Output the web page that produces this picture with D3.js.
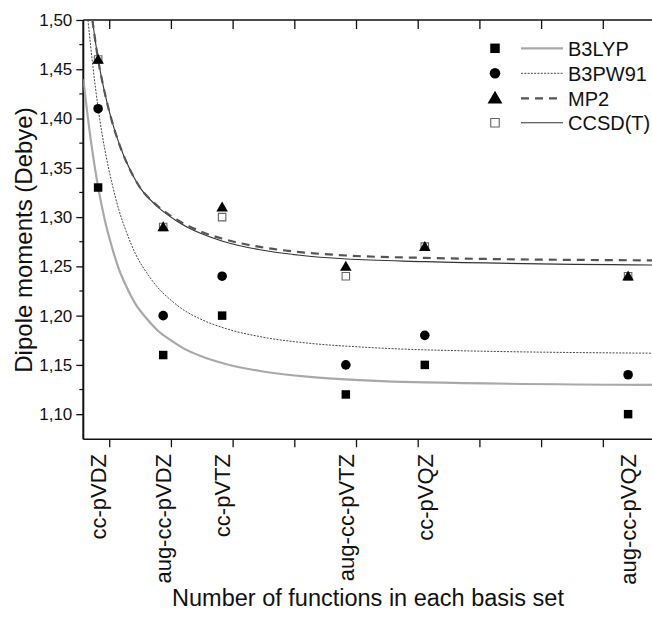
<!DOCTYPE html>
<html>
<head>
<meta charset="utf-8">
<script src="https://cdn.jsdelivr.net/npm/d3@7"></script>
<style>
  html, body { margin: 0; padding: 0; background: #fff; }
  svg { display: block; font-family: "Liberation Sans", Arial, sans-serif; }
</style>
</head>
<body>
<svg id="chart" width="652" height="621"></svg>
<script>
// Basis sets and their (approximate) number of basis functions
const categories = ["cc-pVDZ", "aug-cc-pVDZ", "cc-pVTZ", "aug-cc-pVTZ", "cc-pVQZ", "aug-cc-pVQZ"];
const basisFunctions = [36.4, 57.5, 76.6, 116.7, 142.3, 208.2];

// Computed dipole moments (Debye)
const b3lypValues  = [1.33, 1.16, 1.20, 1.12, 1.15, 1.10];
const b3pw91Values = [1.41, 1.20, 1.24, 1.15, 1.18, 1.14];
const mp2Values    = [1.46, 1.29, 1.31, 1.25, 1.27, 1.24];
const ccsdtValues  = [1.46, 1.29, 1.30, 1.24, 1.27, 1.24];

// Fitted convergence curves (sampled)
const b3lypFitX  = [31.6, 34.07, 36.43, 38.61, 40.78, 43.14, 45.64, 48.65, 52.12, 55.79, 59.68, 64.54, 69.4, 78.06, 88.85, 105.05, 121.26, 142.33, 220];
const b3lypFitY  = [1.440, 1.377, 1.330, 1.2965, 1.2706, 1.2472, 1.229, 1.2111, 1.1971, 1.1847, 1.1756, 1.166, 1.1593, 1.1507, 1.1438, 1.1378, 1.1346, 1.1322, 1.1296];
const b3pw91FitX = [33.1, 34.72, 36.43, 38.61, 40.78, 43.14, 45.64, 48.65, 52.12, 55.79, 59.68, 64.54, 69.4, 78.06, 88.85, 105.05, 121.26, 142.33, 220];
const b3pw91FitY = [1.500, 1.4527, 1.410, 1.368, 1.336, 1.3072, 1.2843, 1.2618, 1.2437, 1.2283, 1.2166, 1.2049, 1.1968, 1.1866, 1.1787, 1.1719, 1.1682, 1.1653, 1.1618];
const mp2FitX    = [34.55, 36.43, 38.61, 40.78, 43.47, 46.71, 49.95, 55.36, 61.85, 69.4, 76.53, 88.85, 101.81, 116.95, 142.33, 220];
const mp2FitY    = [1.500, 1.4595, 1.4253, 1.3984, 1.3722, 1.3482, 1.3301, 1.3122, 1.2975, 1.2858, 1.2782, 1.2697, 1.2645, 1.2610, 1.2586, 1.2560];
const ccsdtFitX  = [34.55, 36.43, 38.61, 40.78, 43.47, 46.71, 49.95, 55.36, 61.85, 69.4, 76.53, 88.85, 101.81, 116.95, 142.33, 220];
const ccsdtFitY  = [1.500, 1.4595, 1.4253, 1.3984, 1.3722, 1.3482, 1.3301, 1.3114, 1.2961, 1.2838, 1.2758, 1.2668, 1.2612, 1.2574, 1.2548, 1.2513];

// Axis ticks
const yTicks = [1.10, 1.15, 1.20, 1.25, 1.30, 1.35, 1.40, 1.45, 1.50];
const yMinorTicks = [1.125, 1.175, 1.225, 1.275, 1.325, 1.375, 1.425, 1.475];
const xTicks = [40, 60, 80, 100, 120, 140, 160, 180, 200];

const legendNames = ["B3LYP", "B3PW91", "MP2", "CCSD(T)"];

const svg = d3.select("#chart");
const plot = { left: 83.3, top: 20, right: 664.5, bottom: 439.3 };

const x = d3.scaleLinear().domain([31.6, 220]).range([plot.left, plot.right]);
const y = d3.scaleLinear().domain([1.0745, 1.50]).range([plot.bottom, plot.top]);

svg.append("defs").append("clipPath").attr("id", "plotClip")
  .append("rect")
  .attr("x", plot.left).attr("y", plot.top)
  .attr("width", plot.right - plot.left).attr("height", plot.bottom - plot.top);

// Left axis with outward major and minor ticks
const yAxis = d3.axisLeft(y).tickValues(yTicks).tickSize(7).tickPadding(4)
  .tickFormat(d => d3.format(".2f")(d).replace(".", ","));
const gy = svg.append("g").attr("transform", `translate(${plot.left},0)`).call(yAxis);
gy.select(".domain").remove();
gy.selectAll(".tick line").attr("stroke", "#111").attr("stroke-width", 1.3);
gy.selectAll(".tick text").attr("font-size", 17).attr("fill", "#111")
  .attr("font-family", "'Liberation Sans', Arial, sans-serif");
svg.append("g").selectAll("line").data(yMinorTicks).join("line")
  .attr("x1", plot.left - 4).attr("x2", plot.left)
  .attr("y1", d => y(d)).attr("y2", d => y(d))
  .attr("stroke", "#111").attr("stroke-width", 1.2);

// Bottom axis: outward ticks, no numeric labels
const xAxisBottom = d3.axisBottom(x).tickValues(xTicks).tickSize(8).tickFormat("");
const gxb = svg.append("g").attr("transform", `translate(0,${plot.bottom})`).call(xAxisBottom);
gxb.select(".domain").remove();
gxb.selectAll(".tick line").attr("stroke", "#111").attr("stroke-width", 1.3);

// Top axis: inward ticks
const xAxisTop = d3.axisBottom(x).tickValues(xTicks).tickSize(9).tickFormat("");
const gxt = svg.append("g").attr("transform", `translate(0,${plot.top})`).call(xAxisTop);
gxt.select(".domain").remove();
gxt.selectAll(".tick line").attr("stroke", "#111").attr("stroke-width", 1.3);

// Frame
svg.append("line").attr("x1", plot.left).attr("x2", plot.right)
  .attr("y1", plot.top).attr("y2", plot.top).attr("stroke", "#111").attr("stroke-width", 1.5);
svg.append("line").attr("x1", plot.left).attr("x2", plot.right)
  .attr("y1", plot.bottom).attr("y2", plot.bottom).attr("stroke", "#111").attr("stroke-width", 1.5);
svg.append("line").attr("x1", plot.left).attr("x2", plot.left)
  .attr("y1", plot.top).attr("y2", plot.bottom).attr("stroke", "#111").attr("stroke-width", 2);

// Fitted curves
const lineGen = d3.line().x(d => x(d[0])).y(d => y(d[1])).curve(d3.curveMonotoneX);
const curves = svg.append("g").attr("clip-path", "url(#plotClip)");
const styles = {
  b3lyp:  { stroke: "#a9a9a9", width: 2.2, dash: null },
  b3pw91: { stroke: "#333",    width: 0.9, dash: "2,1.3" },
  mp2:    { stroke: "#555",    width: 2.2, dash: "8,6" },
  ccsdt:  { stroke: "#333",    width: 1.1, dash: null }
};
function drawCurve(xs, ys, st) {
  curves.append("path")
    .datum(d3.zip(xs, ys))
    .attr("d", lineGen)
    .attr("fill", "none")
    .attr("stroke", st.stroke)
    .attr("stroke-width", st.width)
    .attr("stroke-dasharray", st.dash);
}
drawCurve(b3lypFitX, b3lypFitY, styles.b3lyp);
drawCurve(b3pw91FitX, b3pw91FitY, styles.b3pw91);
drawCurve(ccsdtFitX, ccsdtFitY, styles.ccsdt);
drawCurve(mp2FitX, mp2FitY, styles.mp2);

// Markers
const sq = d3.symbol().type(d3.symbolSquare).size(72);
const openSq = d3.symbol().type(d3.symbolSquare).size(56);
const tri = d3.symbol().type(d3.symbolTriangle).size(58);

const marks = svg.append("g");
marks.selectAll(".ccsdt").data(d3.zip(basisFunctions, ccsdtValues)).join("path")
  .attr("transform", d => `translate(${x(d[0])},${y(d[1])})`)
  .attr("d", openSq).attr("fill", "none").attr("stroke", "#666").attr("stroke-width", 1.1);
marks.selectAll(".b3lyp").data(d3.zip(basisFunctions, b3lypValues)).join("path")
  .attr("transform", d => `translate(${x(d[0])},${y(d[1])})`)
  .attr("d", sq).attr("fill", "#000");
marks.selectAll(".b3pw91").data(d3.zip(basisFunctions, b3pw91Values)).join("circle")
  .attr("cx", d => x(d[0])).attr("cy", d => y(d[1])).attr("r", 4.8).attr("fill", "#000");
marks.selectAll(".mp2").data(d3.zip(basisFunctions, mp2Values)).join("path")
  .attr("transform", d => `translate(${x(d[0])},${y(d[1]) + 1})`)
  .attr("d", tri).attr("fill", "#000");

// Basis-set labels, vertical
svg.append("g").selectAll("text").data(categories).join("text")
  .attr("transform", (d, i) => `translate(${x(basisFunctions[i])},454) rotate(-90)`)
  .attr("text-anchor", "end")
  .attr("dy", "0.36em")
  .attr("font-size", 22)
  .attr("fill", "#111")
  .text(d => d);

// Axis titles
svg.append("text")
  .attr("x", 368).attr("y", 606)
  .attr("text-anchor", "middle")
  .attr("font-size", 23.5).attr("fill", "#111")
  .text("Number of functions in each basis set");
svg.append("text")
  .attr("transform", "translate(32,240) rotate(-90)")
  .attr("text-anchor", "middle")
  .attr("font-size", 24).attr("fill", "#111")
  .text("Dipole moments (Debye)");

// Legend
const legendRows = [48.3, 73.3, 98.3, 122.7];
const lg = svg.append("g");
legendNames.forEach((name, i) => {
  const ry = legendRows[i];
  if (i === 0) lg.append("path").attr("transform", `translate(495,${ry})`).attr("d", d3.symbol().type(d3.symbolSquare).size(90)).attr("fill", "#000");
  if (i === 1) lg.append("circle").attr("cx", 495).attr("cy", ry).attr("r", 5.3).attr("fill", "#000");
  if (i === 2) lg.append("path").attr("transform", `translate(495,${ry + 1})`).attr("d", d3.symbol().type(d3.symbolTriangle).size(95)).attr("fill", "#000");
  if (i === 3) lg.append("path").attr("transform", `translate(495,${ry})`).attr("d", d3.symbol().type(d3.symbolSquare).size(72)).attr("fill", "none").attr("stroke", "#666").attr("stroke-width", 1.1);
  const st = [styles.b3lyp, styles.b3pw91, styles.mp2, styles.ccsdt][i];
  lg.append("line").attr("x1", 521).attr("x2", 563).attr("y1", ry).attr("y2", ry)
    .attr("stroke", st.stroke).attr("stroke-width", st.width).attr("stroke-dasharray", st.dash);
  lg.append("text").attr("x", 568).attr("y", ry).attr("dy", "0.36em")
    .attr("font-size", 20).attr("fill", "#111").text(name);
});
</script>
</body>
</html>
